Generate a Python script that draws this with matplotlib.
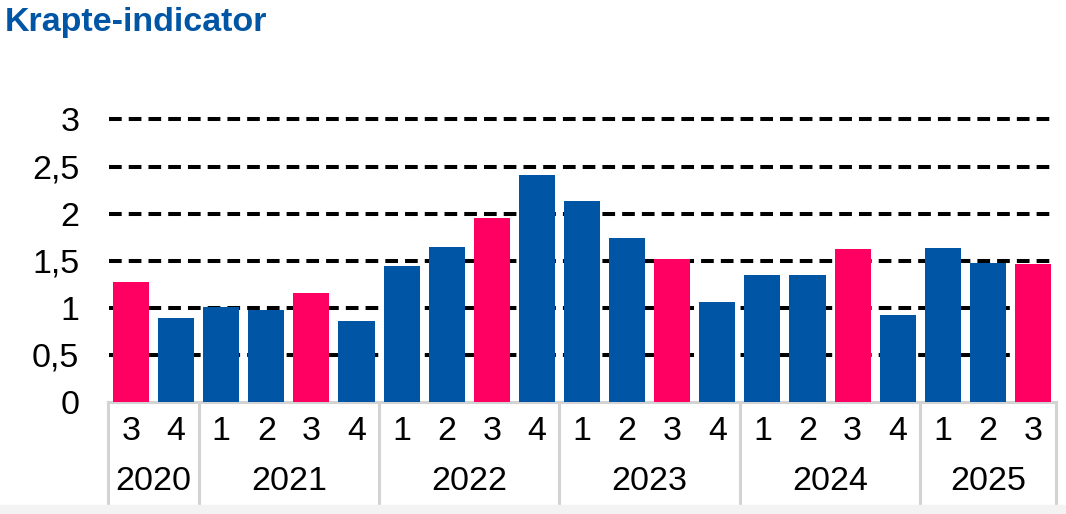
import matplotlib.pyplot as plt
from matplotlib.patches import Rectangle
from matplotlib.transforms import blended_transform_factory

plt.rcParams["font.family"] = ["Liberation Sans", "DejaVu Sans"]

BLUE = "#0055a5"
PINK = "#ff0062"
GRID_GREY = "#d3d3d3"

quarters = ["3", "4", "1", "2", "3", "4", "1", "2", "3", "4", "1", "2", "3", "4",
            "1", "2", "3", "4", "1", "2", "3"]
years = ["2020", "2021", "2022", "2023", "2024", "2025"]
quarters_per_year = [2, 4, 4, 4, 4, 3]
values = [1.27, 0.89, 1.01, 0.98, 1.16, 0.86, 1.44, 1.65, 1.95, 2.41, 2.13,
          1.74, 1.52, 1.06, 1.35, 1.35, 1.62, 0.92, 1.63, 1.48, 1.46]
highlight = [q == "3" for q in quarters]

W, H = 1066, 514
FS = 24.5
fig = plt.figure(figsize=(W / 100, H / 100), dpi=100)
fig.patches.append(Rectangle((0, 0), 1, 9 / H, transform=fig.transFigure,
                             color="#f3f3f3", zorder=0))

unit_px = 94.2
ymax = 3.05
ax_left, ax_right, ax_bottom = 108.5, 1055.5, 402
ax = fig.add_axes([ax_left / W, (H - ax_bottom) / H,
                   (ax_right - ax_left) / W, ymax * unit_px / H])

x = list(range(len(values)))
colors = [PINK if h else BLUE for h in highlight]
ax.bar(x, values, width=0.8, color=colors, zorder=3)

for y in [0.5, 1, 1.5, 2, 2.5, 3]:
    ax.axhline(y, xmax=0.995, color="black", lw=2.9,
               linestyle=(0, (3.15, 1.75)), zorder=1)

ax.set_xlim(-0.5, len(values) - 0.5)
ax.set_ylim(0, ymax)
ax.set_yticks([0, 0.5, 1, 1.5, 2, 2.5, 3])
ax.set_yticklabels(["0", "0,5", "1", "1,5", "2", "2,5", "3"])
ax.tick_params(axis="y", length=0, pad=21, labelsize=FS)
ax.set_xticks([])

for side in ["top", "right", "left"]:
    ax.spines[side].set_visible(False)
ax.spines["bottom"].set_color(GRID_GREY)
ax.spines["bottom"].set_linewidth(2.2)

trans = blended_transform_factory(ax.transData, ax.transAxes)
ax_h = ymax * unit_px
q_y = -(432 - ax_bottom) / ax_h
y_y = -(482 - ax_bottom) / ax_h
line_end = -(504 - ax_bottom) / ax_h

for i, q in enumerate(quarters):
    ax.text(i, q_y, q, transform=trans, ha="center", va="center", fontsize=FS)

start = 0
bounds = [-0.5]
for year, n in zip(years, quarters_per_year):
    centre = start + (n - 1) / 2
    ax.text(centre, y_y, year, transform=trans, ha="center", va="center",
            fontsize=FS)
    start += n
    bounds.append(start - 0.5)

for b in bounds:
    ax.plot([b, b], [0, line_end], transform=trans, color=GRID_GREY, lw=2.2,
            clip_on=False, zorder=2)

fig.text(5 / W, 1 - 31.5 / H, "Krapte-indicator", color=BLUE, fontsize=24.5,
         fontweight="bold", ha="left", va="baseline")

fig.savefig("out.png", dpi=100)
